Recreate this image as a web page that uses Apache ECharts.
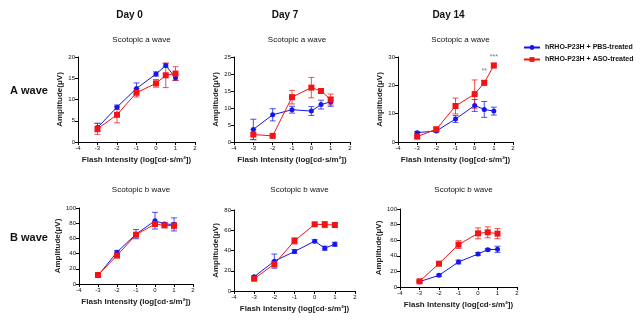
<!DOCTYPE html>
<html><head><meta charset="utf-8">
<script src="https://cdn.jsdelivr.net/npm/echarts@6/dist/echarts.min.js"></script>
<style>html,body{margin:0;padding:0;background:#fff}#c{width:642px;height:326px}</style>
</head><body><div id="c"></div>
<script>
const xVals = [-3, -2, -1, 0, 0.5, 1];
const seriesNames = ['hRHO-P23H + PBS-treated', 'hRHO-P23H + ASO-treated'];
const dayTitles = ['Day 0', 'Day 7', 'Day 14'];
const rowTitles = ['A wave', 'B wave'];
const panelTitles = ['Scotopic a wave', 'Scotopic a wave', 'Scotopic a wave', 'Scotopic b wave', 'Scotopic b wave', 'Scotopic b wave'];
const yMax = [20, 25, 30, 100, 80, 100];
const yStep = [5, 5, 10, 20, 20, 20];

// Means
const pbsMean = [
  [3.4, 8.2, 12.6, 16.0, 18.0, 15.1],
  [3.7, 8.0, 9.5, 9.1, 11.0, 11.8],
  [3.3, 3.9, 8.1, 12.9, 11.5, 10.9],
  [11.0, 41.9, 65.6, 83.3, 78.9, 78.4],
  [14.1, 29.5, 39.0, 49.2, 42.3, 46.2],
  [6.8, 15.0, 32.1, 42.3, 47.9, 48.3]
];
const asoMean = [
  [3.1, 6.4, 11.6, 13.8, 15.7, 16.1],
  [2.2, 1.8, 13.2, 16.0, 15.0, 12.5],
  [1.9, 4.5, 12.7, 16.9, 20.9, 27.0],
  [11.9, 37.4, 64.8, 78.9, 77.1, 76.7],
  [12.1, 26.6, 49.5, 65.9, 65.6, 65.2],
  [7.3, 29.9, 54.3, 68.8, 70.1, 68.4]
];
// SEM
const pbsErr = [
  [1.0, 0.5, 1.3, 0.5, 0.4, 0.6],
  [3.0, 1.8, 1.0, 1.3, 1.3, 1.3],
  [0.4, 0.4, 1.2, 2.1, 2.8, 1.4],
  [1.5, 2.0, 6.0, 11.0, 2.0, 8.6],
  [1.0, 7.0, 2.0, 1.5, 2.0, 2.0],
  [0.8, 1.5, 2.5, 2.0, 1.5, 4.0]
];
const asoErr = [
  [1.3, 1.9, 1.0, 0.9, 2.9, 1.6],
  [1.5, 0.3, 2.0, 3.0, 0.5, 1.6],
  [0.3, 0.7, 2.8, 5.0, 0.8, 0.8],
  [1.0, 2.0, 2.0, 3.0, 2.5, 4.0],
  [1.0, 3.0, 3.0, 1.5, 3.0, 2.0],
  [1.0, 2.5, 5.0, 7.0, 7.0, 6.5]
];
const sigLabels = [{x: 0.5, y: 25, text: '**'}, {x: 1, y: 30, text: '***'}];

const grids = [
  {left: 78, top: 57, width: 117, height: 85},
  {left: 234, top: 57, width: 116, height: 85},
  {left: 398, top: 57, width: 115, height: 85},
  {left: 79, top: 208, width: 114, height: 76},
  {left: 234, top: 210, width: 121, height: 81},
  {left: 400, top: 209, width: 117, height: 78}
];
const BLUE = '#1515f0', RED = '#f21414';
const FONT = 'Liberation Sans, Arial, sans-serif';

function errRender(color) {
  return function (params, api) {
    const x = api.value(0), lo = api.value(1), hi = api.value(2);
    const p1 = api.coord([x, lo]), p2 = api.coord([x, hi]);
    const w = 3;
    const st = {stroke: color, lineWidth: 1, opacity: 0.75};
    return {type: 'group', children: [
      {type: 'line', shape: {x1: p1[0], y1: p1[1], x2: p2[0], y2: p2[1]}, style: st},
      {type: 'line', shape: {x1: p1[0] - w, y1: p1[1], x2: p1[0] + w, y2: p1[1]}, style: st},
      {type: 'line', shape: {x1: p2[0] - w, y1: p2[1], x2: p2[0] + w, y2: p2[1]}, style: st}
    ]};
  };
}

const xAxis = [], yAxis = [], lineSeries = [], errSeries = [], titles = [];
grids.forEach((g, i) => {
  const axisCommon = {
    axisLine: {show: true, onZero: false, lineStyle: {color: '#000', width: 1}},
    axisTick: {show: true, length: 3, lineStyle: {color: '#000'}},
    axisLabel: {fontSize: 6, color: '#111', fontFamily: FONT, margin: 3},
    splitLine: {show: false}
  };
  xAxis.push(Object.assign({
    gridIndex: i, type: 'value', min: -4, max: 2, interval: 1,
    name: 'Flash Intensity (log[cd·s/m²])', nameLocation: 'middle', nameGap: 14,
    nameTextStyle: {fontSize: 8, fontWeight: 'bold', color: '#222', fontFamily: FONT}
  }, axisCommon));
  yAxis.push(Object.assign({
    gridIndex: i, type: 'value', min: 0, max: yMax[i], interval: yStep[i],
    name: 'Amplitude(μV)', nameLocation: 'middle', nameGap: 14,
    nameTextStyle: {fontSize: 8, fontWeight: 'bold', color: '#222', fontFamily: FONT}
  }, axisCommon));
  titles.push({text: panelTitles[i], left: g.left + g.width / 2, top: i < 3 ? 31 : 181, textAlign: 'center',
    textStyle: {fontSize: 8, fontWeight: 'normal', color: '#111', fontFamily: FONT}});

  const pbs = xVals.map((x, k) => [x, pbsMean[i][k]]);
  const aso = xVals.map((x, k) => [x, asoMean[i][k]]);
  const pbsE = xVals.map((x, k) => [x, pbsMean[i][k] - pbsErr[i][k], pbsMean[i][k] + pbsErr[i][k]]);
  const asoE = xVals.map((x, k) => [x, asoMean[i][k] - asoErr[i][k], asoMean[i][k] + asoErr[i][k]]);

  lineSeries.push({type: 'line', name: seriesNames[0], xAxisIndex: i, yAxisIndex: i, data: pbs, symbol: 'circle', symbolSize: 5,
    lineStyle: {color: BLUE, width: 1}, itemStyle: {color: BLUE}, z: 4});
  const aSeries = {type: 'line', name: seriesNames[1], xAxisIndex: i, yAxisIndex: i, data: aso, symbol: 'rect', symbolSize: 6,
    lineStyle: {color: RED, width: 1}, itemStyle: {color: RED}, z: 5};
  if (i === 2) {
    aSeries.markPoint = {symbol: 'circle', symbolSize: 0, data: sigLabels.map(s => ({coord: [s.x, s.y], value: s.text})),
      label: {show: true, formatter: p => p.value, color: '#777', fontSize: 7, fontFamily: FONT, position: 'inside'}};
  }
  lineSeries.push(aSeries);
  errSeries.push({type: 'custom', name: seriesNames[0], xAxisIndex: i, yAxisIndex: i, renderItem: errRender(BLUE), data: pbsE, z: 3, silent: true, itemStyle: {color: BLUE}});
  errSeries.push({type: 'custom', name: seriesNames[1], xAxisIndex: i, yAxisIndex: i, renderItem: errRender(RED), data: asoE, z: 3, silent: true, itemStyle: {color: RED}});
});

dayTitles.forEach((t, j) => {
  titles.push({text: t, left: grids[j].left + grids[j].width / 2 - 12, top: 5, textAlign: 'center',
    textStyle: {fontSize: 10, fontWeight: 'bold', color: '#111', fontFamily: FONT}});
});
rowTitles.forEach((t, j) => {
  titles.push({text: t, left: 5, top: j === 0 ? 80 : 227,
    textStyle: {fontSize: 11, fontWeight: 'bold', color: '#111', fontFamily: FONT}});
});

const chart = echarts.init(document.getElementById('c'), null, {renderer: 'canvas'});
chart.setOption({
  animation: false,
  backgroundColor: '#fff',
  title: titles,
  grid: grids,
  xAxis, yAxis,
  series: lineSeries.concat(errSeries),
  legend: {
    data: [seriesNames[0], seriesNames[1]],
    orient: 'vertical', left: 521, top: 42, itemGap: 5, itemWidth: 16, itemHeight: 6, padding: 2,
    textStyle: {fontSize: 7, fontWeight: 'bold', color: '#111', fontFamily: FONT}
  }
});
</script></body></html>
